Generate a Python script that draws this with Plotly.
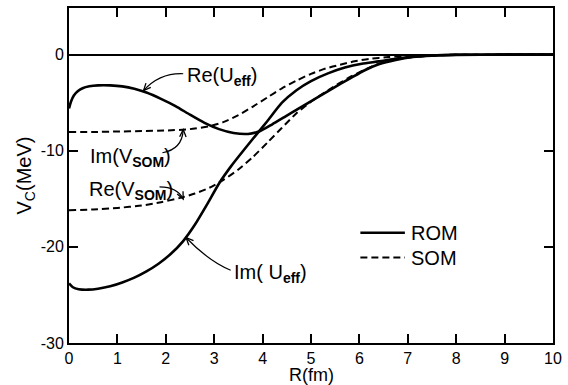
import math
import plotly.graph_objects as go

# ---------------- data ----------------
R_re_ueff = [0.0, 0.04, 0.1, 0.18, 0.28, 0.42, 0.6, 0.85, 1.1, 1.35, 1.6, 1.9, 2.2, 2.5, 2.8,
             3.1, 3.4, 3.7, 3.95, 4.2, 4.45, 4.75, 5.1, 5.45, 5.8, 6.1, 6.4, 6.75, 7.1, 7.5,
             8.0, 9.0, 10.0]
V_re_ueff = [-5.6, -4.9, -4.25, -3.8, -3.5, -3.3, -3.2, -3.2, -3.3, -3.55, -3.95, -4.6, -5.35,
             -6.25, -7.1, -7.75, -8.15, -8.25, -7.95, -7.25, -6.5, -5.6, -4.55, -3.5, -2.5,
             -1.65, -1.0, -0.55, -0.25, -0.1, -0.03, 0.0, 0.0]

R_im_ueff = [0.0, 0.08, 0.2, 0.4, 0.6, 0.85, 1.1, 1.35, 1.6, 1.85, 2.1, 2.35, 2.6, 2.85, 3.1,
             3.35, 3.6, 3.85, 4.1, 4.4, 4.7, 5.0, 5.35, 5.7, 6.05, 6.4, 6.8, 7.2, 7.6, 8.0,
             9.0, 10.0]
V_im_ueff = [-23.8, -24.2, -24.4, -24.45, -24.35, -24.1, -23.7, -23.2, -22.55, -21.75, -20.75,
             -19.45, -17.7, -15.6, -13.4, -11.6, -10.0, -8.45, -6.9, -5.0, -3.7, -2.75, -1.95,
             -1.35, -0.95, -0.7, -0.38, -0.17, -0.07, -0.02, 0.0, 0.0]

R_im_vsom = [0.0, 0.5, 1.0, 1.5, 2.0, 2.5, 2.9, 3.2, 3.5, 3.8, 4.1, 4.4, 4.7, 5.0, 5.3, 5.6,
             5.9, 6.2, 6.6, 7.0, 7.5, 8.0, 9.0, 10.0]
V_im_vsom = [-8.05, -8.05, -8.0, -7.95, -7.9, -7.75, -7.45, -7.0, -6.3, -5.4, -4.45, -3.5,
             -2.7, -2.0, -1.45, -1.05, -0.7, -0.45, -0.25, -0.12, -0.05, -0.01, 0.0, 0.0]

R_re_vsom = [0.0, 0.5, 1.0, 1.5, 1.9, 2.3, 2.6, 2.9, 3.2, 3.5, 3.8, 4.1, 4.4, 4.7, 5.0, 5.4,
             5.8, 6.1, 6.4, 6.8, 7.2, 7.6, 8.0, 9.0, 10.0]
V_re_vsom = [-16.2, -16.1, -15.95, -15.7, -15.35, -14.9, -14.45, -13.85, -13.0, -11.95,
             -10.65, -9.15, -7.6, -6.1, -4.9, -3.55, -2.35, -1.6, -0.95, -0.45, -0.2, -0.08,
             -0.02, 0.0, 0.0]

x_ticks = [0, 1, 2, 3, 4, 5, 6, 7, 8, 9, 10]
x_ticktext = ["0", "1", "2", "3", "4", "5", "6", "7", "8", "9", "10"]
y_ticks = [-30, -20, -10, 0]
y_ticktext = ["-30", "-20", "-10", "0"]

FONT = "Liberation Sans, Arial, sans-serif"

# ---------------- figure ----------------
W, H = 568, 385
ML, MR, MT, MB = 69, 12, 6, 42
XR = [0, 10]
YR = [-30, 4.85]
sx = (W - ML - MR) / (XR[1] - XR[0])   # px per data unit (x)
sy = (H - MT - MB) / (YR[1] - YR[0])   # px per data unit (y)

solid = dict(color="black", width=2.6, shape="spline", smoothing=0.6)
dashed = dict(color="black", width=2.0, dash="7px,4px", shape="spline", smoothing=0.6)

fig = go.Figure()
fig.add_trace(go.Scatter(x=R_re_ueff, y=V_re_ueff, mode="lines", name="ROM",
                         legendgroup="ROM", line=solid, showlegend=False))
fig.add_trace(go.Scatter(x=R_im_ueff, y=V_im_ueff, mode="lines", name="ROM",
                         legendgroup="ROM", line=solid, showlegend=False))
fig.add_trace(go.Scatter(x=R_im_vsom, y=V_im_vsom, mode="lines", name="SOM",
                         legendgroup="SOM", line=dashed, showlegend=False))
fig.add_trace(go.Scatter(x=R_re_vsom, y=V_re_vsom, mode="lines", name="SOM",
                         legendgroup="SOM", line=dashed, showlegend=False))

shapes = []
annotations = []

# curve labels with curved arrows
labels = [
    # text, x, y, start, control, end
    ("Re(U<sub><b>eff</b></sub>)", 2.40, -2.3, (2.36, -1.99), (1.87, -1.89), (1.54, -3.75)),
    ("Im(V<sub><b>SOM</b></sub>)", 0.39, -10.7, (1.93, -10.21), (2.34, -9.84), (2.36, -7.80)),
    ("Re(V<sub><b>SOM</b></sub>)", 0.37, -14.1, (1.87, -13.76), (2.24, -13.76), (2.36, -15.03)),
    ("Im( U<sub><b>eff</b></sub>)", 3.37, -22.8, (3.34, -22.43), (2.89, -21.5), (2.42, -19.05)),
]
for text, tx, ty, s, c, e in labels:
    annotations.append(dict(x=tx, y=ty, xref="x", yref="y", text=text, showarrow=False,
                            xanchor="left", yanchor="middle",
                            font=dict(family=FONT, size=20, color="black")))
    shapes.append(dict(type="path", xref="x", yref="y",
                       path=f"M {s[0]},{s[1]} Q {c[0]},{c[1]} {e[0]},{e[1]}",
                       line=dict(color="black", width=1.2)))
    # V-shaped arrowhead, computed in pixel space then mapped back to data units
    dx = (c[0] - e[0]) * sx
    dy = (c[1] - e[1]) * sy
    n = math.hypot(dx, dy)
    ux, uy = dx / n, dy / n
    L, ang = 8.0, math.radians(24)
    pts = []
    for sgn in (1, -1):
        rx = ux * math.cos(sgn * ang) - uy * math.sin(sgn * ang)
        ry = ux * math.sin(sgn * ang) + uy * math.cos(sgn * ang)
        pts.append((e[0] + rx * L / sx, e[1] + ry * L / sy))
    shapes.append(dict(type="path", xref="x", yref="y",
                       path=f"M {pts[0][0]},{pts[0][1]} L {e[0]},{e[1]} L {pts[1][0]},{pts[1][1]}",
                       line=dict(color="black", width=1.3)))

# legend drawn manually
legend_items = [("ROM", None, 0.329), ("SOM", "7px,4px", 0.255)]
for name, dash, yy in legend_items:
    ln = dict(color="black", width=2.6 if dash is None else 2.0)
    if dash:
        ln["dash"] = dash
    shapes.append(dict(type="line", xref="paper", yref="paper", x0=0.602, x1=0.694,
                       y0=yy, y1=yy, line=ln))
    annotations.append(dict(x=0.702, y=yy, xref="paper", yref="paper", text=name,
                            showarrow=False, xanchor="left", yanchor="middle",
                            font=dict(family=FONT, size=20, color="black")))

# x-axis title as annotation (tight spacing like reference)
annotations.append(dict(x=0.5, y=-0.096, xref="paper", yref="paper", text="R(fm)",
                        showarrow=False, xanchor="center", yanchor="middle",
                        font=dict(family=FONT, size=18, color="black")))

axis_common = dict(showline=True, linecolor="black", linewidth=2, mirror="ticks",
                   ticks="inside", ticklen=9, tickwidth=1.5, tickcolor="black",
                   showgrid=False, tickfont=dict(family=FONT, size=16, color="black"))

fig.update_layout(
    width=W, height=H, autosize=False,
    margin=dict(l=ML, r=MR, t=MT, b=MB),
    paper_bgcolor="white", plot_bgcolor="white",
    showlegend=False,
    shapes=shapes, annotations=annotations,
    xaxis=dict(range=XR, tickvals=x_ticks, ticktext=x_ticktext, zeroline=False,
               **axis_common),
    yaxis=dict(range=YR, tickvals=y_ticks, ticktext=y_ticktext,
               zeroline=True, zerolinecolor="black", zerolinewidth=1.5,
               title=dict(text="V<sub>C</sub>(MeV)",
                          font=dict(family=FONT, size=20, color="black"), standoff=4),
               **axis_common),
)

# remove the default 8px page margin so the figure fills the window exactly
fig.write_html("out.html", config={"displayModeBar": False},
               post_script="document.body.style.margin='0';")
